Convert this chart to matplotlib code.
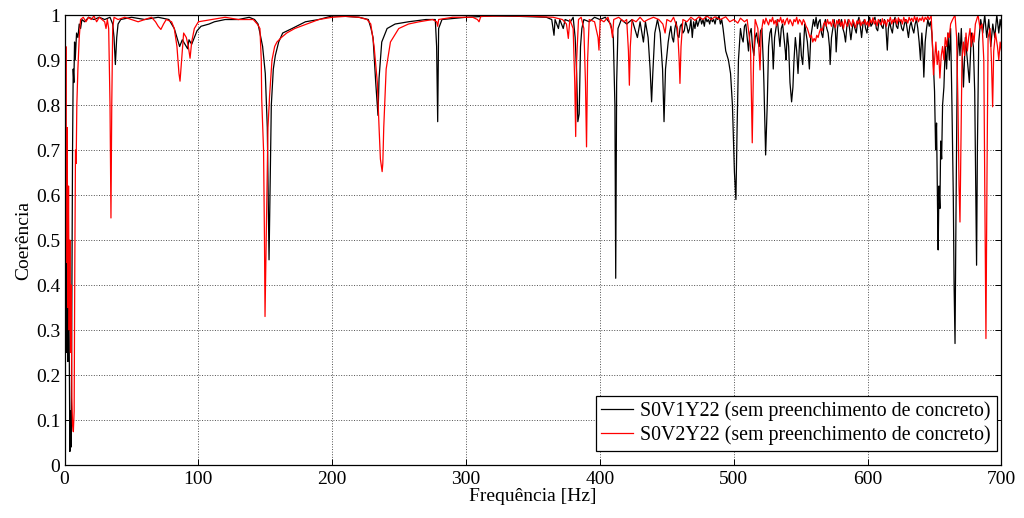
import matplotlib
matplotlib.use("Agg")
import matplotlib.pyplot as plt

plt.rcParams['font.family'] = ['Liberation Serif', 'DejaVu Serif']

# coherence, (frequency Hz, coherence)
s0v1y22 = [
    (0, 0.90), (0.5, 0.93), (1.0, 0.40), (1.5, 0.25), (2.0, 0.58), (2.5, 0.23), (3.0, 0.45),
    (3.5, 0.28), (4.0, 0.03), (4.5, 0.12), (5.0, 0.04), (5.5, 0.35), (6.0, 0.70), (6.5, 0.88),
    (7.0, 0.85), (7.5, 0.94), (8.0, 0.90), (9.0, 0.96), (10, 0.95), (11, 0.98), (12, 0.97),
    (13, 0.99), (15, 0.985), (18, 0.995), (22, 0.99), (26, 0.995), (30, 0.99), (34, 0.995),
    (36, 0.98), (37, 0.95), (38, 0.89), (39, 0.95), (40, 0.98), (42, 0.99), (50, 0.995),
    (60, 0.99), (70, 0.995), (78, 0.99), (82, 0.97), (84, 0.95), (86, 0.93), (88, 0.945),
    (90, 0.935), (92, 0.925), (93, 0.945), (95, 0.935), (97, 0.95), (99, 0.965), (102, 0.975),
    (108, 0.98), (112, 0.985), (120, 0.99), (130, 0.99), (138, 0.995), (142, 0.99),
    (144.6, 0.98), (146, 0.96), (148, 0.93), (150, 0.87), (151.5, 0.75), (152.8, 0.456),
    (153.5, 0.60), (154.5, 0.80), (156, 0.88), (157.5, 0.91), (160, 0.94), (163, 0.96),
    (170, 0.97), (180, 0.985), (190, 0.99), (200, 0.998), (210, 0.997), (220, 0.995),
    (227, 0.99), (229, 0.97), (230.5, 0.95), (232.5, 0.85), (234.2, 0.777), (235, 0.86),
    (237, 0.94), (241, 0.97), (247, 0.98), (257, 0.985), (270, 0.99), (277, 0.99),
    (278, 0.93), (278.8, 0.763), (279.5, 0.97), (282, 0.99), (300, 0.995), (320, 0.998),
    (340, 0.997), (360, 0.995), (364, 0.99), (365.7, 0.955), (366.5, 0.99), (369, 0.97),
    (370, 0.99), (372.6, 0.97), (374, 0.99), (378, 0.985), (380, 0.995), (381.5, 0.95),
    (382.6, 0.87), (383.5, 0.763), (384.5, 0.78), (385.5, 0.93), (386.5, 0.97), (388, 0.99),
    (392, 0.985), (396, 0.995), (400, 0.99), (404, 0.995), (408, 0.98), (410, 0.95),
    (411.2, 0.80), (411.8, 0.415), (412.5, 0.85), (413.5, 0.97), (416, 0.99), (420, 0.98),
    (424, 0.99), (428, 0.95), (430, 0.985), (432.5, 0.94), (434, 0.985), (436, 0.95),
    (437.5, 0.88), (438.6, 0.807), (439.5, 0.87), (441, 0.96), (443, 0.99), (445, 0.96),
    (446.8, 0.88), (447.9, 0.763), (449, 0.88), (451, 0.94), (452, 0.96), (453, 0.975),
    (454, 0.95), (455, 0.94), (456, 0.97), (457, 0.985), (458, 0.955), (459, 0.95),
    (460, 0.975), (461, 0.98), (462, 0.96), (463, 0.965), (464, 0.985), (465, 0.975),
    (466, 0.96), (467, 0.97), (468, 0.99), (469, 0.95), (470, 0.985), (471, 0.97),
    (472, 0.99), (473, 0.975), (474, 0.985), (475, 0.995), (476, 0.98), (477, 0.99),
    (478, 0.975), (479, 0.995), (480, 0.985), (481, 0.99), (482, 0.98), (483, 0.995),
    (484, 0.985), (485, 0.99), (486, 0.98), (487, 0.995), (488, 0.99), (489, 0.998),
    (490, 0.98), (491, 0.99), (492, 0.97), (494, 0.92), (496, 0.90), (497.6, 0.87),
    (499, 0.80), (500.5, 0.65), (501.6, 0.59), (502.5, 0.75), (503.5, 0.90), (505, 0.97),
    (506, 0.95), (507, 0.94), (508, 0.975), (509, 0.98), (510, 0.95), (511, 0.92),
    (512, 0.96), (513, 0.97), (514, 0.93), (515, 0.91), (516, 0.95), (517, 0.96),
    (518, 0.94), (519, 0.93), (520, 0.965), (521, 0.97), (522, 0.90), (522.5, 0.85),
    (523.8, 0.689), (525, 0.80), (526, 0.93), (527, 0.96), (528, 0.97), (529, 0.92),
    (529.5, 0.88), (530.5, 0.95), (531.5, 0.97), (532.5, 0.99), (533.5, 0.96), (534.5, 0.93),
    (535.5, 0.97), (536.5, 0.98), (537.5, 0.95), (538.5, 0.92), (539, 0.90), (540, 0.96),
    (541, 0.93), (542, 0.85), (543.2, 0.807), (544.2, 0.84), (545, 0.90), (546, 0.95),
    (547, 0.92), (548, 0.87), (549, 0.93), (549.5, 0.96), (550.5, 0.91), (551.5, 0.89),
    (552.5, 0.95), (553, 0.98), (554, 0.96), (555, 0.94), (556, 0.90), (556.5, 0.88),
    (557.5, 0.95), (558.5, 0.97), (559.5, 0.99), (560.5, 0.975), (561.5, 0.995),
    (562.5, 0.97), (563.5, 0.985), (564.5, 0.99), (565.5, 0.96), (566.5, 0.95),
    (567.5, 0.98), (568.5, 0.99), (569.5, 0.97), (570.5, 0.96), (571.5, 0.93), (572, 0.89),
    (573, 0.95), (574, 0.97), (575, 0.99), (576, 0.96), (576.5, 0.918), (577.5, 0.97),
    (578.5, 0.99), (579.5, 0.975), (580.5, 0.99), (581.5, 0.97), (582.5, 0.96),
    (583.5, 0.94), (584.5, 0.975), (585.5, 0.99), (586.5, 0.97), (587.5, 0.945),
    (588.5, 0.97), (589.5, 0.985), (590.5, 0.97), (591.5, 0.96), (592.5, 0.985),
    (593.5, 0.995), (594.5, 0.975), (595.5, 0.95), (596.5, 0.98), (597.5, 0.99),
    (598.5, 0.97), (599.5, 0.96), (600.5, 0.985), (601.5, 0.995), (602.5, 0.975),
    (603.5, 0.98), (604.5, 0.99), (605.5, 0.995), (606.5, 0.97), (607.5, 0.965),
    (608.5, 0.985), (609.5, 0.99), (610.5, 0.975), (611.5, 0.97), (612.5, 0.99),
    (613.5, 0.98), (614.7, 0.922), (615.5, 0.97), (616.5, 0.985), (617.5, 0.97),
    (618.5, 0.96), (619.5, 0.985), (620.5, 0.995), (621.5, 0.975), (622.5, 0.97),
    (623.5, 0.99), (624.5, 0.985), (625.5, 0.97), (626.5, 0.965), (627.5, 0.98),
    (628.5, 0.99), (629.5, 0.97), (630.5, 0.95), (631.5, 0.975), (632.5, 0.985),
    (633.5, 0.97), (634.5, 0.96), (635.5, 0.98), (636.5, 0.99), (637.5, 0.97),
    (638.5, 0.94), (639.5, 0.90), (640.5, 0.96), (641.2, 0.93), (642, 0.862), (643, 0.94),
    (644, 0.97), (645, 0.99), (646, 0.975), (647, 0.985), (648, 0.96), (649, 0.90),
    (650, 0.83), (650.8, 0.70), (651.5, 0.76), (652.2, 0.58), (652.7, 0.478), (653.3, 0.62),
    (654, 0.57), (654.6, 0.72), (655.3, 0.68), (656, 0.80), (657, 0.84), (658, 0.93),
    (659, 0.88), (660, 0.96), (661, 0.90), (662, 0.97), (663, 0.80), (664, 0.60),
    (664.6, 0.40), (665.3, 0.27), (666, 0.55), (667, 0.90), (668, 0.96), (669, 0.91),
    (670, 0.97), (671.6, 0.84), (673, 0.95), (674.5, 0.90), (676, 0.85), (677.5, 0.96),
    (679, 0.93), (680, 0.83), (680.8, 0.60), (681.4, 0.444), (682, 0.70), (683, 0.94),
    (684.5, 0.99), (686, 0.96), (687.5, 1.0), (689, 0.95), (690.5, 0.99), (692, 0.93),
    (693.5, 0.98), (695, 0.95), (696.5, 1.0), (698, 0.96), (699, 0.99), (700, 0.97),
]

s0v2y22 = [
    (0, 0.97), (0.5, 0.60), (1.0, 0.93), (1.5, 0.45), (2.0, 0.75), (2.5, 0.35), (3.0, 0.62),
    (3.5, 0.30), (4.0, 0.50), (4.5, 0.25), (5.0, 0.40), (5.5, 0.15), (6.0, 0.09),
    (6.6, 0.074), (7.2, 0.12), (7.7, 0.45), (8.2, 0.70), (8.7, 0.67), (9.2, 0.80),
    (10, 0.88), (11, 0.95), (12, 0.99), (14, 0.995), (16, 0.985), (18, 0.995), (20, 0.99),
    (22, 0.998), (24, 0.985), (26, 0.995), (28, 0.99), (30, 0.985), (31, 0.97), (32, 0.99),
    (33, 0.97), (34, 0.80), (34.7, 0.549), (35.3, 0.80), (36, 0.97), (37, 0.995), (40, 0.99),
    (45, 0.995), (50, 0.99), (55, 0.985), (60, 0.99), (65, 0.995), (68, 0.985), (70, 0.975),
    (72, 0.968), (74, 0.98), (76, 0.99), (80, 0.985), (82, 0.97), (84, 0.93), (85.5, 0.87),
    (86.3, 0.853), (87.5, 0.90), (89, 0.96), (91, 0.95), (92.5, 0.93), (93.8, 0.904),
    (95, 0.94), (97, 0.97), (100, 0.985), (110, 0.99), (120, 0.995), (130, 0.99),
    (138, 0.99), (141, 0.99), (144, 0.98), (146, 0.97), (147, 0.90), (147.3, 0.815),
    (148.7, 0.70), (149.4, 0.50), (149.8, 0.33), (150.4, 0.45), (151.2, 0.60), (152, 0.75),
    (153.2, 0.82), (155, 0.90), (157, 0.93), (158.7, 0.94), (162, 0.95), (166, 0.96),
    (172, 0.97), (181, 0.98), (190, 0.99), (200, 0.995), (210, 0.997), (220, 0.995),
    (226, 0.99), (228.8, 0.98), (231.3, 0.93), (233.7, 0.85), (235, 0.75), (236, 0.68),
    (237.3, 0.652), (237.8, 0.67), (238.5, 0.75), (240.3, 0.88), (243.5, 0.94),
    (249.7, 0.97), (257, 0.98), (265, 0.985), (275, 0.99), (278, 0.985), (278.8, 0.975),
    (279.5, 0.99), (290, 0.995), (305, 0.995), (308.5, 0.99), (309.7, 0.985), (311, 0.997),
    (330, 0.998), (350, 0.997), (365, 0.995), (372, 0.99), (375, 0.98), (376.4, 0.948),
    (377.5, 0.99), (380, 0.97), (381.2, 0.85), (381.9, 0.73), (382.6, 0.90), (384, 0.99),
    (386, 0.995), (388, 0.97), (389.2, 0.85), (390, 0.707), (390.8, 0.90), (392, 0.99),
    (396, 0.985), (398.6, 0.95), (399.3, 0.922), (400.2, 0.99), (403, 0.985), (406, 0.995),
    (408.5, 0.97), (409.4, 0.95), (410.3, 0.99), (414, 0.995), (418, 0.985), (420, 0.99),
    (421.3, 0.92), (422, 0.844), (422.7, 0.93), (424, 0.99), (427, 0.985), (430, 0.995),
    (433, 0.985), (436, 0.99), (440, 0.995), (444, 0.99), (447, 0.98), (448.7, 0.96),
    (450, 0.99), (453, 0.985), (455, 0.995), (458, 0.97), (459.2, 0.90), (459.8, 0.848),
    (460.6, 0.93), (462, 0.99), (465, 0.985), (468, 0.995), (471, 0.988), (474, 0.996),
    (477, 0.99), (480, 0.998), (483, 0.99), (486, 0.996), (490, 0.99), (494, 0.996),
    (497, 0.985), (500, 0.99), (503, 0.982), (505, 0.993), (508, 0.985), (510, 0.99),
    (512.5, 0.93), (513.8, 0.716), (514.8, 0.90), (516, 0.99), (518, 0.97), (519.6, 0.878),
    (520.5, 0.96), (522, 0.99), (523, 0.98), (524, 0.993), (525, 0.985), (526, 0.978),
    (527, 0.99), (528, 0.985), (529, 0.995), (530, 0.98), (531, 0.988), (532, 0.976),
    (533, 0.99), (534, 0.985), (535, 0.995), (536, 0.982), (537, 0.99), (538, 0.978),
    (539, 0.988), (540, 0.993), (541, 0.98), (542, 0.99), (543, 0.984), (544, 0.976),
    (545, 0.99), (546, 0.985), (547, 0.995), (548, 0.98), (549, 0.99), (550, 0.986),
    (551, 0.978), (552, 0.99), (553, 0.984), (554, 0.975), (555, 0.97), (556, 0.96),
    (557, 0.95), (558, 0.955), (559, 0.94), (560, 0.948), (561, 0.942), (562, 0.955),
    (563, 0.95), (564, 0.962), (565, 0.97), (566, 0.965), (567, 0.978), (568, 0.985),
    (569, 0.975), (570, 0.99), (571, 0.98), (572, 0.985), (573, 0.975), (574, 0.99),
    (575, 0.98), (576, 0.972), (577, 0.988), (578, 0.98), (579, 0.99), (580, 0.975),
    (581, 0.985), (582, 0.97), (583, 0.99), (584, 0.98), (585, 0.975), (586, 0.99),
    (587, 0.983), (588, 0.975), (589, 0.99), (590, 0.98), (591, 0.972), (592, 0.987),
    (593, 0.98), (594, 0.99), (595, 0.976), (596, 0.985), (597, 0.98), (598, 0.99),
    (599, 0.978), (600, 0.985), (601, 0.975), (602, 0.99), (603, 0.982), (604, 0.994),
    (605, 0.98), (606, 0.988), (607, 0.976), (608, 0.99), (609, 0.984), (610, 0.978),
    (611, 0.992), (612, 0.98), (613, 0.988), (614, 0.975), (615, 0.99), (616, 0.985),
    (617, 0.995), (618, 0.98), (619, 0.99), (620, 0.984), (621, 0.992), (622, 0.98),
    (623, 0.994), (624, 0.986), (625, 0.99), (626, 0.98), (627, 0.995), (628, 0.985),
    (629, 0.99), (630, 0.982), (631, 0.995), (632, 0.987), (633, 0.993), (634, 0.985),
    (635, 0.997), (636, 0.988), (637, 0.995), (638, 0.985), (639, 0.993), (640, 0.988),
    (641, 0.996), (642, 0.985), (643, 0.995), (644, 0.99), (645, 0.997), (646, 0.99),
    (647.5, 0.998), (648.5, 0.93), (649.2, 0.867), (650, 0.90), (651, 0.94), (652, 0.89),
    (653, 0.92), (654, 0.86), (655, 0.91), (656, 0.93), (657, 0.90), (658, 0.95),
    (659, 0.93), (660, 0.96), (661, 0.95), (662, 0.98), (663.5, 0.99), (665.3, 1.0),
    (666.5, 0.95), (667.5, 0.80), (668.3, 0.62), (669, 0.54), (669.7, 0.70), (670.5, 0.90),
    (671.5, 0.94), (672.5, 0.91), (673.5, 0.96), (674.5, 0.92), (675.5, 0.95),
    (676.5, 0.97), (677.5, 0.93), (678.5, 0.96), (679.5, 0.94), (680.5, 0.98),
    (681.5, 0.99), (682.5, 1.0), (684, 0.97), (685.5, 0.98), (686.8, 0.90), (687.6, 0.60),
    (688.4, 0.281), (689.2, 0.65), (690, 0.95), (691.5, 0.97), (692.5, 0.90),
    (693.4, 0.796), (694.2, 0.92), (695.5, 0.96), (697, 0.93), (698, 0.90), (699, 0.94),
    (700, 0.92),
]

labels = ['S0V1Y22 (sem preenchimento de concreto)', 'S0V2Y22 (sem preenchimento de concreto)']

fig = plt.figure(figsize=(10.24, 5.18), dpi=100)
ax = fig.add_axes([0.063, 0.1023, 0.915, 0.8687])

f1, c1 = zip(*s0v1y22)
f2, c2 = zip(*s0v2y22)
ax.plot(f1, c1, color='black', lw=0.9, label=labels[0])
ax.plot(f2, c2, color='red', lw=0.9, label=labels[1])

ax.set_xlim(0, 700)
ax.set_ylim(0, 1)
ax.set_xticks(range(0, 701, 100))
ax.set_yticks([i / 10 for i in range(11)])
ax.set_yticklabels(['0'] + ['0.%d' % i for i in range(1, 10)] + ['1'])
ax.grid(True, color='#505050', linestyle=':', linewidth=0.7)
ax.tick_params(direction='in', top=True, right=True, labelsize=14, length=4, width=0.7)
ax.tick_params(axis='x', pad=4)
ax.tick_params(axis='y', pad=3)
for sp in ax.spines.values():
    sp.set_linewidth(0.9)

ax.set_xlabel('Frequência [Hz]', fontsize=14, labelpad=0)
ax.set_ylabel('Coerência', fontsize=14, labelpad=3)

leg = ax.legend(loc='lower right', bbox_to_anchor=(0.995, 0.031), borderaxespad=0,
                fontsize=14.3, frameon=True, fancybox=False, framealpha=1,
                handlelength=1.6, handletextpad=0.35, borderpad=0.3, labelspacing=0.2)
leg.get_frame().set_edgecolor('black')
leg.get_frame().set_linewidth(0.9)

fig.savefig('out.png', dpi=100)
